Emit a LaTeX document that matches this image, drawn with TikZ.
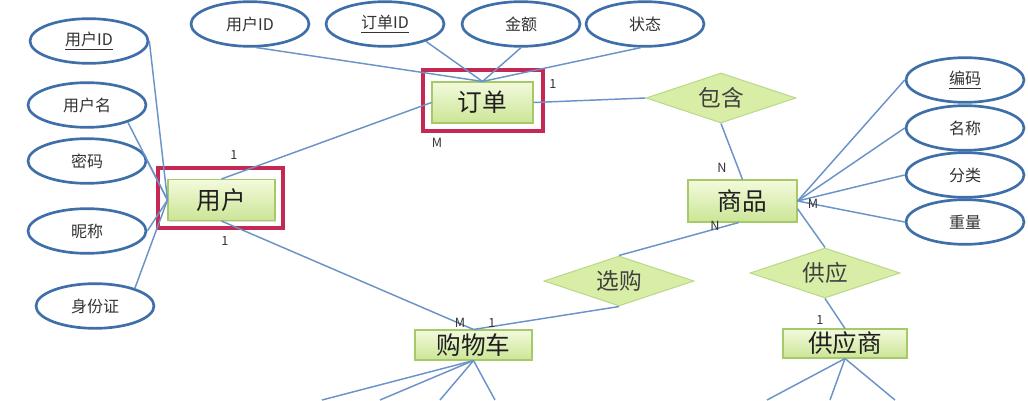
\documentclass[tikz,border=0pt]{standalone}
\usepackage{fontspec}
\setmainfont{Noto Sans CJK SC}
\usetikzlibrary{shapes.geometric,shadows}
\definecolor{ellblue}{HTML}{3F6FA8}
\definecolor{linecol}{HTML}{6A93C8}
\definecolor{enttop}{HTML}{F3FADC}
\definecolor{entbot}{HTML}{CBE596}
\definecolor{entborder}{HTML}{A6C96A}
\definecolor{relfill}{HTML}{D8EEA6}
\definecolor{relborder}{HTML}{BBD98A}
\definecolor{framered}{HTML}{C52852}
\definecolor{txtgray}{HTML}{333333}
\tikzset{
  attr/.style={ellipse, draw=ellblue, line width=2pt, fill=white,
    minimum width=88.5pt, minimum height=33.5pt, inner sep=0pt,
    font=\fontsize{12}{14}\selectfont, text=txtgray},
  entity/.style={rectangle, draw=entborder, line width=0.8pt,
    top color=enttop, bottom color=entbot, inner sep=0pt,
    font=\fontsize{18.5}{21}\selectfont, text=black!88,
    drop shadow={opacity=0.25, shadow xshift=1pt, shadow yshift=-1pt}},
  rel/.style={diamond, aspect=3, draw=relborder, line width=0.8pt,
    fill=relfill, minimum width=112.5pt, minimum height=37.5pt,
    inner sep=0pt, font=\fontsize{17}{20}\selectfont, text=black!75},
  conn/.style={draw=linecol, line width=1.1pt},
  card/.style={font=\fontsize{9.5}{10}\selectfont, text=black!80, inner sep=0pt},
  redframe/.style={rectangle, draw=framered, line width=2.7pt, inner sep=0pt}
}
\begin{document}
\begin{tikzpicture}[x=0.75pt,y=-0.75pt]
\useasboundingbox (0,0) rectangle (1028,400);
% red frames
\node[redframe, minimum width=93.75pt, minimum height=45pt] (userframe) at (220.5,198) {};
\node[redframe, minimum width=90pt, minimum height=45.75pt] (orderframe) at (483,100.5) {};
% entities
\node[entity, minimum width=80.25pt, minimum height=30.75pt] (user) at (221.5,200) {用户};
\node[entity, minimum width=75.75pt, minimum height=30.75pt] (order) at (482.5,102.5) {订单};
\node[entity, minimum width=81.75pt, minimum height=31.5pt] (prod) at (742.5,201) {商品};
\node[entity, minimum width=87.75pt, minimum height=22.5pt] (cart) at (473.5,345) {购物车};
\node[entity, minimum width=93pt, minimum height=21.75pt] (supplier) at (845,343.5) {供应商};
% relationships
\node[rel] (contain) at (721,98) {包含};
\node[rel] (select) at (619,281) {选购};
\node[rel] (supply) at (825,273) {供应};
% user attributes
\node[attr] (uid) at (89,41) {\underline{用户ID}};
\node[attr] (uname) at (87,105) {用户名};
\node[attr] (pwd) at (87,161) {密码};
\node[attr] (nick) at (87,231) {昵称};
\node[attr] (idcard) at (95,306) {身份证};
% order attributes
\node[attr] (ouid) at (250,24) {用户ID};
\node[attr] (oid) at (385,24) {\underline{订单ID}};
\node[attr] (amt) at (521,24) {金额};
\node[attr] (st) at (645,24) {状态};
% product attributes
\node[attr] (code) at (965,80) {\underline{编码}};
\node[attr] (pname) at (965,128) {名称};
\node[attr] (cat) at (965,175) {分类};
\node[attr] (weight) at (965,222) {重量};
% free ends at the bottom edge
\coordinate (c1) at (322,400);
\coordinate (c2) at (380,400);
\coordinate (c3) at (440,400);
\coordinate (c4) at (495,400);
\coordinate (s1) at (767,400);
\coordinate (s2) at (830,400);
\coordinate (s3) at (895,400);
% connectors
\draw[conn] (uid.east) -- (user.west);
\draw[conn] (uname.-23) -- (user.west);
\draw[conn] (pwd.east) -- (user.west);
\draw[conn] (nick.east) -- (user.west);
\draw[conn] (idcard.24) -- (user.west);
\draw[conn] (ouid.-75) -- (order.north);
\draw[conn] (oid.-23) -- (order.north);
\draw[conn] (amt.south) -- (order.north);
\draw[conn] (st.-100) -- (order.north);
\draw[conn] (user.north) -- (order.west);
\draw[conn] (order.east) -- (contain.west);
\draw[conn] (contain.south) -- (prod.north);
\draw[conn] (prod.-100) -- (select.north);
\draw[conn] (select.south) -- (cart.north);
\draw[conn] (user.south) -- (cart.north);
\draw[conn] (prod.-8) -- (supply.north);
\draw[conn] (supply.south) -- (supplier.north);
\draw[conn] (prod.east) -- (code.west);
\draw[conn] (prod.east) -- (pname.west);
\draw[conn] (prod.east) -- (cat.west);
\draw[conn] (prod.east) -- (weight.west);
\draw[conn] (cart.south) -- (c1);
\draw[conn] (cart.south) -- (c2);
\draw[conn] (cart.south) -- (c3);
\draw[conn] (cart.south) -- (c4);
\draw[conn] (supplier.south) -- (s1);
\draw[conn] (supplier.south) -- (s2);
\draw[conn] (supplier.south) -- (s3);
% cardinalities
\node[card] (k1) at (234,155) {1};
\node[card] (k2) at (225,241) {1};
\node[card] (k3) at (437,143) {M};
\node[card] (k4) at (553,84) {1};
\node[card] (k5) at (722,168) {N};
\node[card] (k6) at (813,204) {M};
\node[card] (k7) at (715,226) {N};
\node[card] (k8) at (460,323) {M};
\node[card] (k9) at (492,323) {1};
\node[card] (k10) at (820,320) {1};
\end{tikzpicture}
\end{document}
